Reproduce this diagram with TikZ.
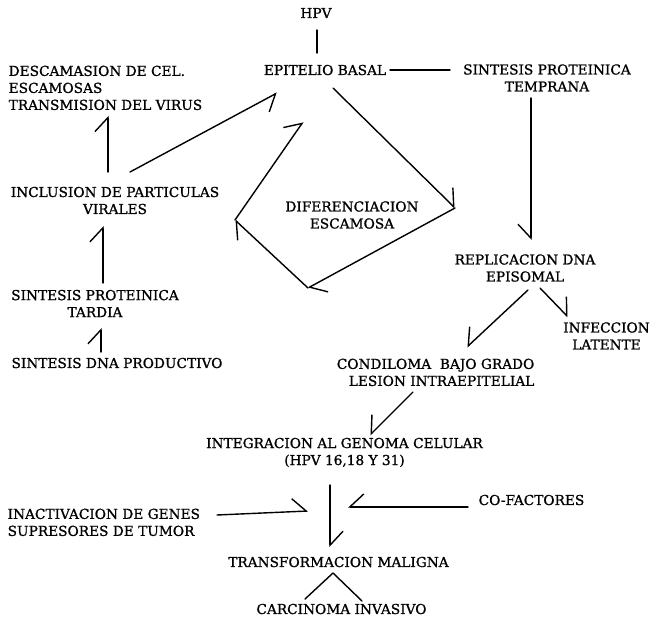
\documentclass[tikz,border=0pt]{standalone}
\usepackage{fontspec}
\setmainfont{DejaVu Serif}[FakeBold=1]
\usetikzlibrary{arrows.meta,positioning}
\tikzset{
        textnode/.style={align=center,inner sep=0pt,font=\fontsize{13.7}{17}\selectfont},
        % Centred labels
        node_text/.style={textnode},
        % Labels set flush left
        node_left/.style={textnode, align=left, anchor=north west},
        % Labels set flush right
        node_right/.style={textnode, align=right, anchor=north east},
        % Plain lines
        edge_plain/.style={-},
        % Hand drawn half arrows
        edge_harpoon/.style={-{Straight Barb[harpoon, length=14pt, width=26pt]}},
        edge_harpoon_swap/.style={-{Straight Barb[harpoon, swap, length=14pt, width=26pt]}}
}

\begin{document}
\begin{tikzpicture}[x=1pt, y=-1pt, line width=1.4pt, line cap=round, line join=round]
    \useasboundingbox (0,0) rectangle (656,618);
    % labels
    \node[node_text] (hpv) at (316,13) {HPV};
    \node[node_text] (epitelio) at (325,70) {EPITELIO BASAL};
    \node[node_text] (temprana) at (547,78) {SINTESIS PROTEINICA\\TEMPRANA};
    \node[node_left] (descamacion) at (8,65) {DESCAMASION DE CEL.\\ESCAMOSAS\\TRANSMISION DEL VIRUS};
    \node[node_text] (inclusion) at (115,200.5) {INCLUSION DE PARTICULAS\\VIRALES};
    \node[node_text] (diferenciacion) at (352,215) {DIFERENCIACION\\ESCAMOSA};
    \node[node_text] (tardia) at (95,303.5) {SINTESIS PROTEINICA\\TARDIA};
    \node[node_text] (productivo) at (117,363) {SINTESIS DNA PRODUCTIVO};
    \node[node_text] (replicacion) at (525,268) {REPLICACION DNA\\EPISOMAL};
    \node[node_text] (infeccion) at (606.5,336) {INFECCION\\LATENTE};
    \node[node_right] (condiloma) at (535,358) {CONDILOMA\ \ BAJO GRADO\\LESION INTRAEPITELIAL};
    \node[node_text] (integracion) at (344.5,452.5) {INTEGRACION AL GENOMA CELULAR\\(HPV 16,18 Y 31)};
    \node[node_left] (inactivacion) at (7,508) {INACTIVACION DE GENES\\SUPRESORES DE TUMOR};
    \node[node_text] (cofactores) at (531.5,500) {CO-FACTORES};
    \node[node_text] (transformacion) at (338.5,562) {TRANSFORMACION MALIGNA};
    \node[node_text] (carcinoma) at (341.5,609) {CARCINOMA INVASIVO};

    % corners of the cycle and free ends
    \coordinate (c_top) at (303,122);
    \coordinate (c_right) at (455,208);
    \coordinate (c_bottom) at (308,288);
    \coordinate (c_left) at (235,220);
    \coordinate (j_left) at (308,511);
    \coordinate (j_right) at (348,507);

    % connectors
    \draw[edge_plain] ([shift={(1,17)}]hpv.center) -- ([shift={(-8,-17)}]epitelio.center);
    \draw[edge_plain] ([shift={(65,0)}]epitelio.center) -- ([shift={(-97,-8)}]temprana.center);
    \draw[edge_harpoon_swap] ([shift={(-16,20)}]temprana.center) -- ([shift={(6,-28)}]replicacion.center);
    \draw[edge_harpoon] ([shift={(8,18)}]epitelio.center) -- (c_right);
    \draw[edge_harpoon] (c_right) -- (c_bottom);
    \draw[edge_harpoon] (c_bottom) -- (c_left);
    \draw[edge_harpoon] (c_left) -- (c_top);
    \draw[edge_harpoon_swap] ([shift={(15,-28.5)}]inclusion.center) -- ([shift={(-48,23)}]epitelio.center);
    \draw[edge_harpoon] ([shift={(-7,-28.5)}]inclusion.center) -- ([shift={(100,5)}]descamacion.south west);
    \draw[edge_harpoon] ([shift={(8,-20.5)}]tardia.center) -- ([shift={(-12,25.5)}]inclusion.center);
    \draw[edge_harpoon] ([shift={(-16,-11)}]productivo.center) -- ([shift={(6,24.5)}]tardia.center);
    \draw[edge_harpoon_swap] ([shift={(3,22)}]replicacion.center) -- ([shift={(-68,-11)}]condiloma.north east);
    \draw[edge_harpoon] ([shift={(15,20)}]replicacion.center) -- ([shift={(-38.5,-19)}]infeccion.center);
    \draw[edge_harpoon_swap] ([shift={(-122,34)}]condiloma.north east) -- ([shift={(25.5,-17.5)}]integracion.center);
    \draw[edge_harpoon] ([shift={(-14.5,32.5)}]integracion.center) -- ([shift={(-8.5,-15)}]transformacion.center);
    \draw[edge_harpoon] ([shift={(210,7)}]inactivacion.north west) -- (j_left);
    \draw[edge_harpoon_swap] ([shift={(-63.5,7)}]cofactores.center) -- (j_right);
    \draw[edge_plain] ([shift={(-36.5,-10)}]carcinoma.center) -- ([shift={(-5.5,11)}]transformacion.center) -- ([shift={(20.5,-8)}]carcinoma.center);
\end{tikzpicture}
\end{document}
